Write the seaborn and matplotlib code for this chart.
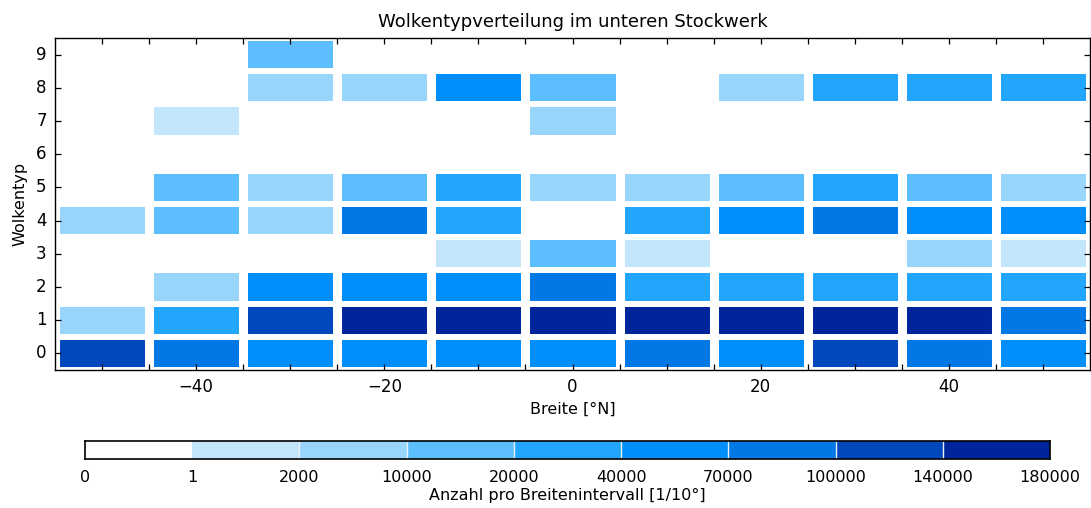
import numpy as np
import pandas as pd
import matplotlib
matplotlib.use("Agg")
import matplotlib.pyplot as plt
from matplotlib.colors import ListedColormap, BoundaryNorm
from matplotlib.ticker import FixedLocator
import seaborn as sns

# Latitude bin centres (10 degree bins) and cloud types
breiten = [-50, -40, -30, -20, -10, 0, 10, 20, 30, 40, 50]
wolkentypen = [0, 1, 2, 3, 4, 5, 6, 7, 8, 9]

# Counts per latitude interval, one list per cloud type
typ0 = [120000, 85000, 55000, 55000, 55000, 55000, 85000, 55000, 120000, 85000, 55000]
typ1 = [6000, 30000, 120000, 160000, 160000, 160000, 160000, 160000, 160000, 160000, 85000]
typ2 = [0, 6000, 55000, 55000, 55000, 85000, 30000, 30000, 30000, 30000, 30000]
typ3 = [0, 0, 0, 0, 1000, 15000, 1000, 0, 0, 6000, 1000]
typ4 = [6000, 15000, 6000, 85000, 30000, 0, 30000, 55000, 85000, 55000, 55000]
typ5 = [0, 15000, 6000, 15000, 30000, 6000, 6000, 15000, 30000, 15000, 6000]
typ6 = [0, 0, 0, 0, 0, 0, 0, 0, 0, 0, 0]
typ7 = [0, 1000, 0, 0, 0, 6000, 0, 0, 0, 0, 0]
typ8 = [0, 0, 6000, 6000, 55000, 15000, 0, 6000, 30000, 30000, 30000]
typ9 = [0, 0, 15000, 0, 0, 0, 0, 0, 0, 0, 0]

# Colour classes
grenzen = [0, 1, 2000, 10000, 20000, 40000, 70000, 100000, 140000, 180000]
farben = ["#FFFFFF", "#C4E6FC", "#99D5FB", "#5CBEFC", "#22A6FD",
          "#008FFA", "#0078E6", "#0048BC", "#00249C"]

werte = pd.DataFrame([typ0, typ1, typ2, typ3, typ4, typ5, typ6, typ7, typ8, typ9],
                     index=wolkentypen, columns=breiten)

cmap = ListedColormap(farben)
norm = BoundaryNorm(grenzen, cmap.N)

sns.set_style("white")
plt.rcParams["font.family"] = ["DejaVu Sans"]
plt.rcParams["text.color"] = "black"
plt.rcParams["axes.labelcolor"] = "black"
plt.rcParams["xtick.color"] = "black"
plt.rcParams["ytick.color"] = "black"
plt.rcParams["axes.linewidth"] = 1.0

fig = plt.figure(figsize=(10.91, 5.08), dpi=100)
ax = fig.add_axes([0.0504, 0.2717, 0.9487, 0.6535])
cax = fig.add_axes([0.0779, 0.0965, 0.8845, 0.0354])

sns.heatmap(werte, ax=ax, cmap=cmap, norm=norm, cbar=False,
            linewidths=4.3, linecolor="white")
ax.invert_yaxis()

# wider white gaps between latitude bins
ax.vlines(np.arange(len(breiten) + 1), 0, len(wolkentypen),
          colors="white", linewidth=6.5, zorder=2)

for s in ax.spines.values():
    s.set_visible(True)
    s.set_color("black")
    s.set_linewidth(1.0)
    s.set_zorder(5)
ax.xaxis.set_zorder(4)
ax.yaxis.set_zorder(4)

# x axis in degrees: column i spans [-55 + 10 i, -45 + 10 i]
def grad_pos(d):
    return (d - (breiten[0] - 5)) / 10.0

major = [-40, -20, 0, 20, 40]
minor = list(range(-50, 55, 5))
ax.set_xticks([grad_pos(d) for d in major])
ax.set_xticklabels(["\u221240", "\u221220", "0", "20", "40"], rotation=0)
ax.xaxis.set_minor_locator(FixedLocator([grad_pos(d) for d in minor]))
ax.set_yticks(np.arange(len(wolkentypen)) + 0.5)
ax.set_yticklabels([str(w) for w in wolkentypen], rotation=0)

ax.tick_params(axis="both", which="both", direction="in", top=True, right=True,
               bottom=True, left=True, color="black", labelcolor="black",
               labelsize=12, width=0.9)
ax.tick_params(axis="both", which="major", length=4, pad=6)
ax.tick_params(axis="x", which="minor", length=4)

ax.set_xlabel("Breite [\u00b0N]", fontsize=11.5, labelpad=4, color="black")
ax.set_ylabel("Wolkentyp", fontsize=11.5, labelpad=6, color="black")
ax.set_title("Wolkentypverteilung im unteren Stockwerk", fontsize=13, pad=8,
             color="black")

# discrete colour bar with equally wide classes
n = len(farben)
for i, f in enumerate(farben):
    cax.axvspan(i, i + 1, color=f, lw=0)
cax.vlines(np.arange(2, n), 0, 1, colors="#E8F0F8", linewidth=1.0)
cax.set_xlim(0, n)
cax.set_ylim(0, 1)
cax.set_yticks([])
cax.set_xticks(np.arange(n + 1))
cax.set_xticklabels([str(g) for g in grenzen])
cax.tick_params(axis="x", length=0, labelsize=11.5, pad=8, labelcolor="black")
for s in cax.spines.values():
    s.set_visible(True)
    s.set_color("black")
    s.set_linewidth(1.2)
cax.set_xlabel("Anzahl pro Breitenintervall [1/10\u00b0]", fontsize=11.5,
               labelpad=2, color="black")

fig.savefig("out.png", dpi=100)
